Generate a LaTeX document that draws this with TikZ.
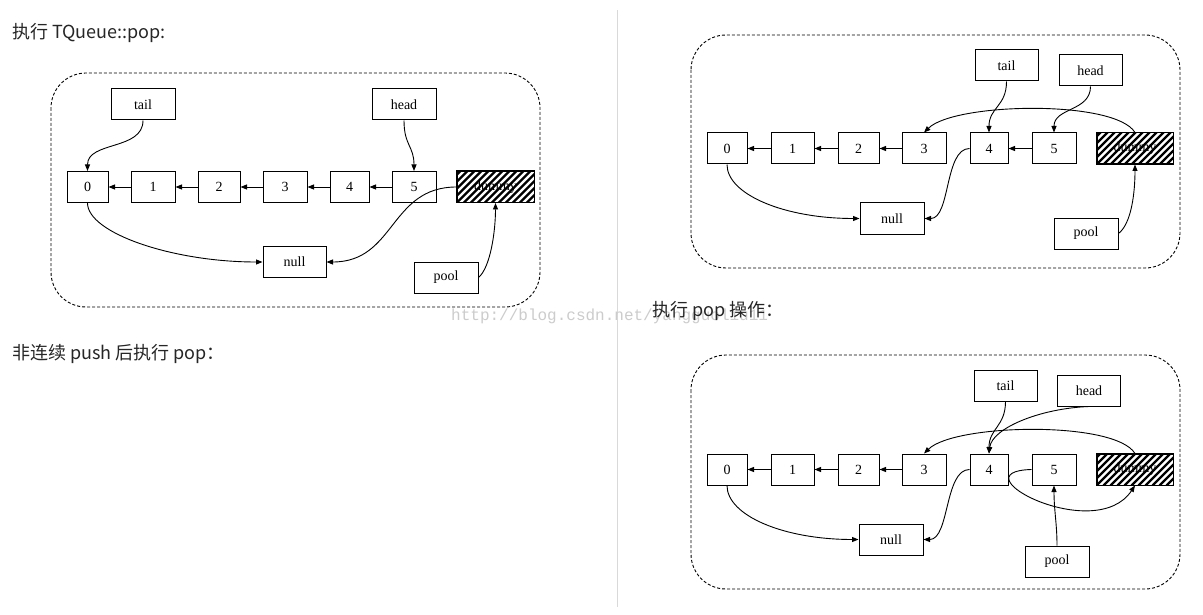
\documentclass[tikz,border=0pt]{standalone}
\usepackage{fontspec}
\setmainfont{Liberation Serif}
\newfontfamily\cjk{Noto Sans CJK SC}
\newfontfamily\wmfont{Liberation Mono}
\usetikzlibrary{arrows.meta}
\begin{document}
\begin{tikzpicture}[x=1pt,y=-1pt,
  box/.style={draw,line width=1pt,minimum height=31pt,inner sep=0pt,font=\fontsize{14}{15}\selectfont},
  arr/.style={line width=0.9pt,-{Triangle[length=6.5pt,width=5pt]}},
  frame/.style={draw,line width=0.9pt,dash pattern=on 3pt off 2pt,rounded corners=35pt},
  hdr/.style={anchor=west,inner sep=0pt,text=black!85,font=\cjk\fontsize{18}{21}\selectfont},
  wm/.style={anchor=west,inner sep=0pt,text=black!20,font=\wmfont\fontsize{16}{16}\selectfont},
  hatch/.style={line width=2.2pt}
]
\useasboundingbox (0,0) rectangle (1203,615);
\fill[white] (0,0) rectangle (1203,615);

% separator
\draw[black!15,line width=0.8pt] (617,10) -- (617,607);

% watermark
\node[wm] (wmark) at (451,316) {http://blog.csdn.net/yangguoliu11};

% headings
\node[hdr] (t1) at (12,33) {执行 TQueue::pop:};
\node[hdr] (t2) at (12,354) {非连续 push 后执行 pop：};
\node[hdr] (t3) at (652,311) {执行 pop 操作：};

% ================= left diagram =================
\draw[frame] (51,73) rectangle (540,307);
\node[box,minimum width=64pt] (Ltail) at (143,104.5) {tail};
\node[box,minimum width=64pt] (Lhead) at (404,104.5) {head};
\node[box,minimum width=41pt] (L0) at (87.5,187) {0};
\node[box,minimum width=44pt] (L1) at (153,187) {1};
\node[box,minimum width=42pt] (L2) at (219,187) {2};
\node[box,minimum width=44pt] (L3) at (285,187) {3};
\node[box,minimum width=39pt] (L4) at (349.5,187) {4};
\node[box,minimum width=44pt] (L5) at (414,187) {5};
\node[box,minimum width=77pt] (Ld) at (495.5,187) {dummy};
\node[box,minimum width=63pt] (Lnull) at (294.5,262) {null};
\node[box,minimum width=64pt] (Lpool) at (446,277.5) {pool};
\begin{scope}
  \clip (Ld.south west) rectangle (Ld.north east);
  \foreach \i in {-35,-28,...,84} \draw[hatch] ([xshift=\i pt]Ld.south west) -- ++(40,-40);
\end{scope}
\draw[line width=1pt] (Ld.south west) rectangle (Ld.north east);

\draw[arr] (Ltail.south) .. controls +(0,30) and +(0,-30) .. (L0.north);
\draw[arr] (Lhead.south) .. controls +(0,25) and +(0,-25) .. (L5.north);
\draw[arr] (L1) -- (L0);
\draw[arr] (L2) -- (L1);
\draw[arr] (L3) -- (L2);
\draw[arr] (L4) -- (L3);
\draw[arr] (L5) -- (L4);
\draw[arr] (L0.south) .. controls +(0,30) and +(-90,0) .. (Lnull.west);
\draw[arr] (Ld.west) .. controls +(-67,0) and +(69,0) .. (Lnull.east);
\draw[arr] (Lpool.east) .. controls +(12,-10) and +(0,28) .. (Ld.south);

% ================= right top diagram =================
\draw[frame] (691,35) rectangle (1180,268);
\node[box,minimum width=63pt] (Atail) at (1006.5,65.5) {tail};
\node[box,minimum width=63pt] (Ahead) at (1090.5,70.5) {head};
\node[box,minimum width=40pt] (A0) at (727,148.5) {0};
\node[box,minimum width=43pt] (A1) at (792.5,148.5) {1};
\node[box,minimum width=41pt] (A2) at (858.5,148.5) {2};
\node[box,minimum width=44pt] (A3) at (924,148.5) {3};
\node[box,minimum width=38pt] (A4) at (989,148.5) {4};
\node[box,minimum width=44pt] (A5) at (1054,148.5) {5};
\node[box,minimum width=76pt] (Ad) at (1135,148.5) {dummy};
\node[box,minimum width=64pt] (Anull) at (892,218.5) {null};
\node[box,minimum width=64pt] (Apool) at (1086,233.5) {pool};
\begin{scope}
  \clip (Ad.south west) rectangle (Ad.north east);
  \foreach \i in {-35,-28,...,84} \draw[hatch] ([xshift=\i pt]Ad.south west) -- ++(40,-40);
\end{scope}
\draw[line width=1pt] (Ad.south west) rectangle (Ad.north east);

\draw[arr] (Atail.south) .. controls +(0,25) and +(0,-25) .. (A4.north);
\draw[arr] (Ahead.south) .. controls +(0,25) and +(0,-25) .. (A5.north);
\draw[arr] (A1) -- (A0);
\draw[arr] (A2) -- (A1);
\draw[arr] (A3) -- (A2);
\draw[arr] (A5) -- (A4);
\draw[arr] (Ad.north) .. controls +(-20,-33) and +(31,-30) .. (A3.north);
\draw[arr] (A4.west) .. controls +(-25,0) and +(26,0) .. (Anull.east);
\draw[arr] (A0.south) .. controls +(0,30) and +(-75,0) .. (Anull.west);
\draw[arr] (Apool.east) .. controls +(13,-10) and +(0,28) .. (Ad.south);

% ================= right bottom diagram =================
\draw[frame] (691,355) rectangle (1180,589);
\node[box,minimum width=63pt] (Btail) at (1005.5,385.5) {tail};
\node[box,minimum width=63pt] (Bhead) at (1089,390.5) {head};
\node[box,minimum width=40pt] (B0) at (727,469.5) {0};
\node[box,minimum width=43pt] (B1) at (792.5,469.5) {1};
\node[box,minimum width=41pt] (B2) at (858.5,469.5) {2};
\node[box,minimum width=44pt] (B3) at (924,469.5) {3};
\node[box,minimum width=38pt] (B4) at (989,469.5) {4};
\node[box,minimum width=44pt] (B5) at (1054,469.5) {5};
\node[box,minimum width=76pt] (Bd) at (1135,469.5) {dummy};
\node[box,minimum width=64pt] (Bnull) at (891,539.5) {null};
\node[box,minimum width=64pt] (Bpool) at (1057,561.5) {pool};
\begin{scope}
  \clip (Bd.south west) rectangle (Bd.north east);
  \foreach \i in {-35,-28,...,84} \draw[hatch] ([xshift=\i pt]Bd.south west) -- ++(40,-40);
\end{scope}
\draw[line width=1pt] (Bd.south west) rectangle (Bd.north east);

\draw[arr] (Btail.south) .. controls +(0,25) and +(0,-25) .. (B4.north);
\draw[arr] (Bhead.south) .. controls +(-50,2) and +(3,-25) .. (B4.north);
\draw[arr] (B1) -- (B0);
\draw[arr] (B2) -- (B1);
\draw[arr] (B3) -- (B2);
\draw[arr] (Bd.north) .. controls +(-20,-33) and +(31,-30) .. (B3.north);
\draw[arr] (B4.west) .. controls +(-25,0) and +(26,0) .. (Bnull.east);
\draw[arr] (B0.south) .. controls +(0,30) and +(-75,0) .. (Bnull.west);
\draw[arr] (B5.west) .. controls +(-77,2) and +(-40,60) .. (Bd.south);
\draw[arr] (Bpool.north) .. controls +(0,-22) and +(0,25) .. (B5.south);
\end{tikzpicture}
\end{document}
